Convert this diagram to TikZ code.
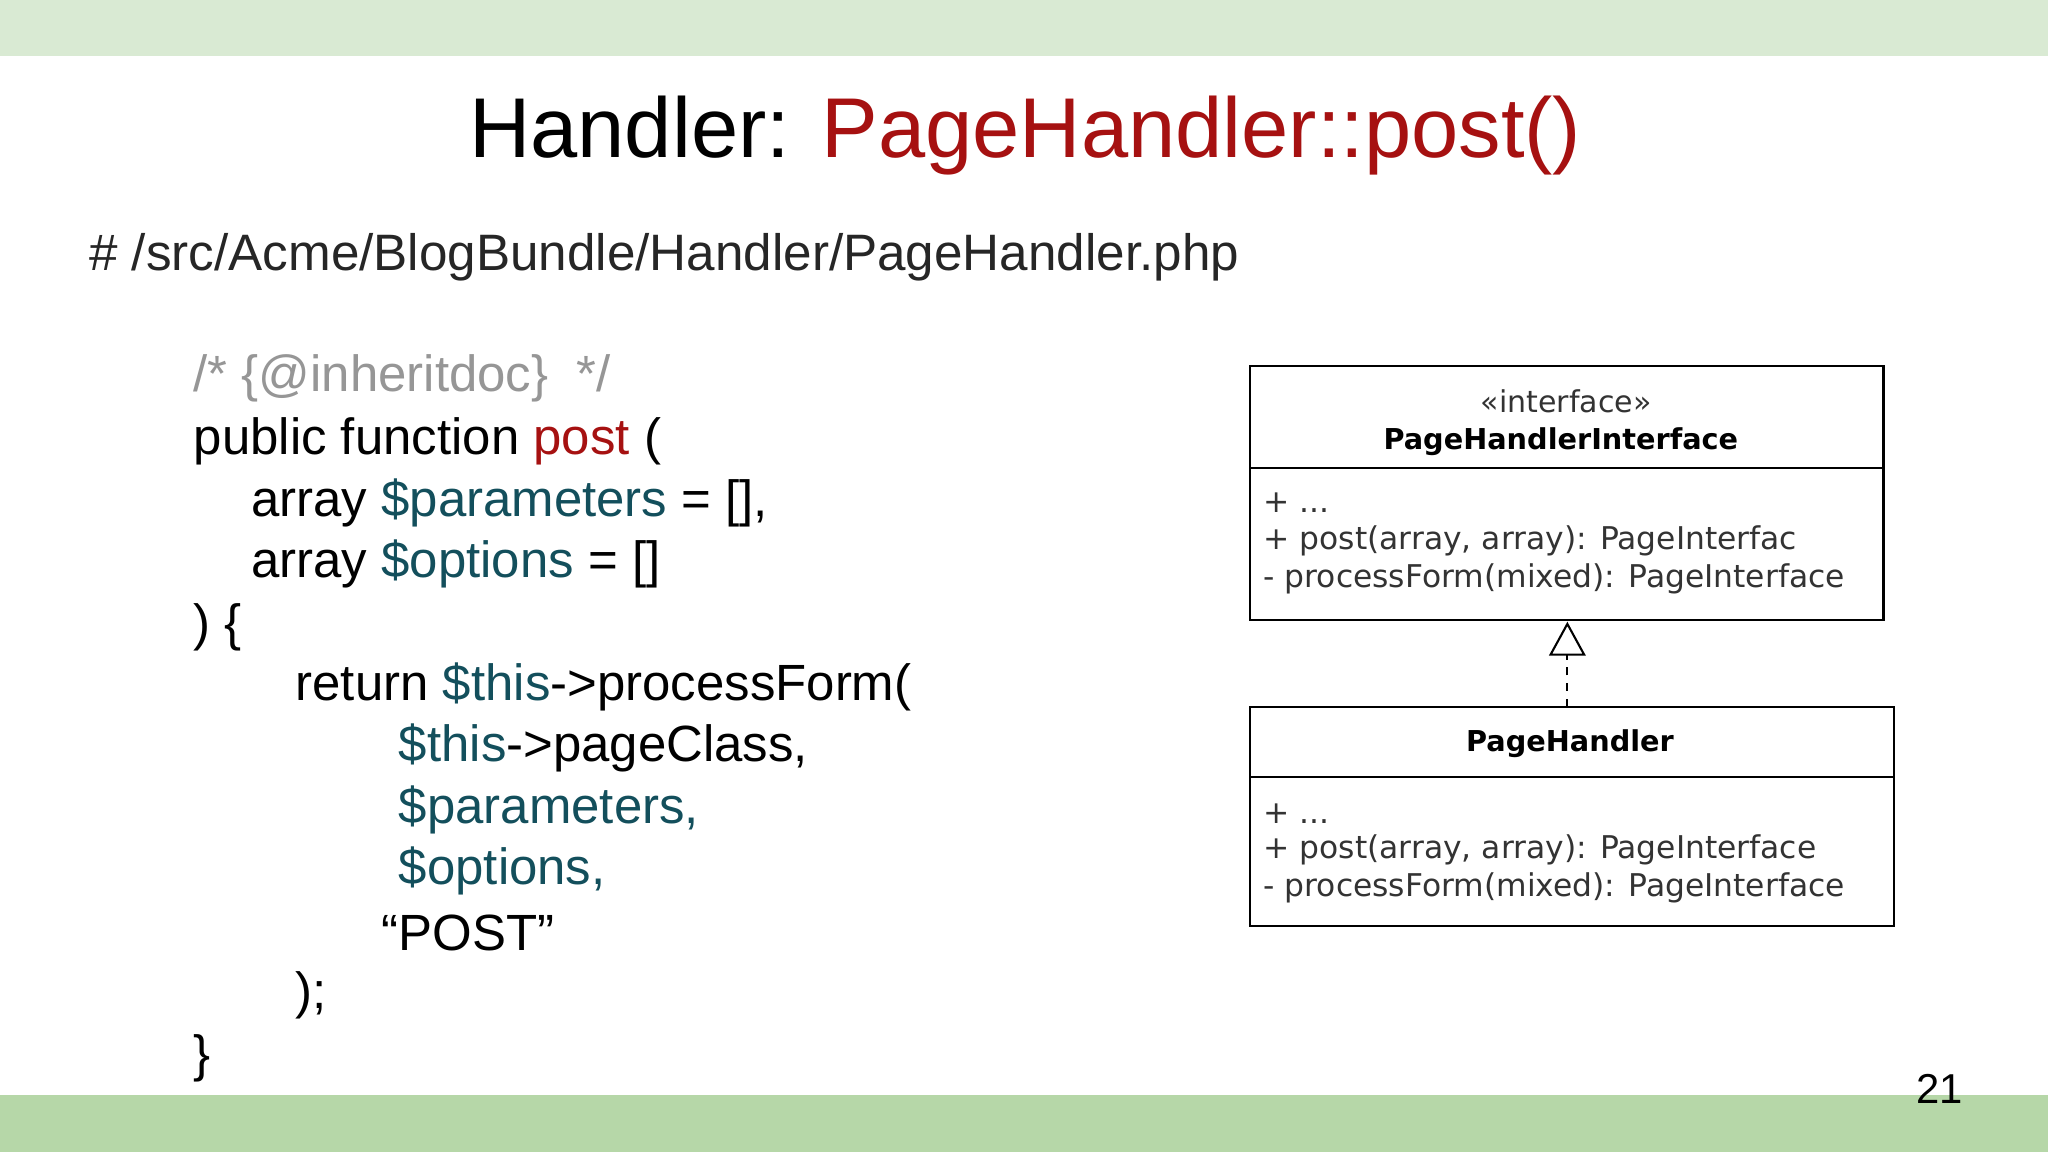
\documentclass[tikz,border=0pt]{standalone}
\usepackage{fontspec}
\setmainfont{Liberation Sans}
\newfontfamily\umlfont{DejaVu Sans}
\usetikzlibrary{arrows.meta}
\definecolor{dred}{RGB}{166,17,17}
\definecolor{teal2}{RGB}{19,79,92}
\definecolor{gtop}{RGB}{217,234,211}
\definecolor{gbot}{RGB}{182,215,168}
\definecolor{cgray}{RGB}{150,150,150}
\tikzset{
 code/.style={anchor=west,inner sep=0pt,font=\fontsize{19.5}{24}\selectfont},
 uml/.style={anchor=west,inner sep=0pt,font=\umlfont\fontsize{12}{14}\selectfont,text=black!80},
 umlbox/.style={draw,line width=0.8pt}
}
\begin{document}
\begin{tikzpicture}[x=0.5pt,y=-0.5pt]
\useasboundingbox (0,0) rectangle (1568,882);
\fill[white] (0,0) rectangle (1568,882);
\fill[gtop] (0,0) rectangle (1568,43);
\fill[gbot] (0,838) rectangle (1568,882);
\node[inner sep=0pt,font=\fontsize{32.5}{36}\selectfont] (title) at (785,104) {Handler: \textcolor{dred}{PageHandler::post()}};
\node[code,font=\fontsize{19.6}{24}\selectfont,text=black!85] (path) at (68,197) {\# /src/Acme/BlogBundle/Handler/PageHandler.php};
\node[code,text=cgray] (l1) at (148,290) {/* \{@inheritdoc\}\ \ */};
\node[code] (l2) at (148,338) {public function \textcolor{dred}{post} (};
\node[code] (l3) at (192,385) {array \textcolor{teal2}{\$parameters} = [],};
\node[code] (l4) at (192,432) {array \textcolor{teal2}{\$options} = []};
\node[code] (l5) at (148,480) {) \{};
\node[code] (l6) at (226,526) {return \textcolor{teal2}{\$this}->processForm(};
\node[code] (l7) at (305,573) {\textcolor{teal2}{\$this}->pageClass,};
\node[code,text=teal2] (l8) at (305,620) {\$parameters,};
\node[code,text=teal2] (l9) at (305,667) {\$options,};
\node[code] (l10) at (292,714) {“POST”};
\node[code] (l11) at (226,762) {);};
\node[code] (l12) at (148,810) {\}};
\node[inner sep=0pt,font=\fontsize{16}{18}\selectfont] (pg) at (1485,834) {21};
% interface box
\draw[umlbox] (957,280) rectangle (1442,475);
\draw[umlbox] (957,358) -- (1442,358);
\node[inner sep=0pt,font=\umlfont\fontsize{11.5}{13}\selectfont,text=black!80] (st) at (1199,307) {«interface»};
\node[inner sep=0pt,font=\umlfont\bfseries\fontsize{11}{13}\selectfont] (in) at (1195,338) {PageHandlerInterface};
\node[uml] (a1) at (967,385) {+ ...};
\node[uml] (a2) at (967,414) {+ post(array, array): PageInterfac};
\node[uml] (a3) at (967,443) {- processForm(mixed): PageInterface};
% class box
\draw[umlbox] (957,541) rectangle (1450,709);
\draw[umlbox] (957,595) -- (1450,595);
\node[inner sep=0pt,font=\umlfont\bfseries\fontsize{11}{13}\selectfont] (cn) at (1202,569) {PageHandler};
\node[uml] (b1) at (967,623) {+ ...};
\node[uml] (b2) at (967,651) {+ post(array, array): PageInterface};
\node[uml] (b3) at (967,680) {- processForm(mixed): PageInterface};
\coordinate (top) at (1200,541);
\coordinate (tip) at (1200,476);
\draw[dashed,line width=0.8pt,-{Triangle[open,length=13pt,width=14pt]}] (top) -- (tip);
\end{tikzpicture}
\end{document}
